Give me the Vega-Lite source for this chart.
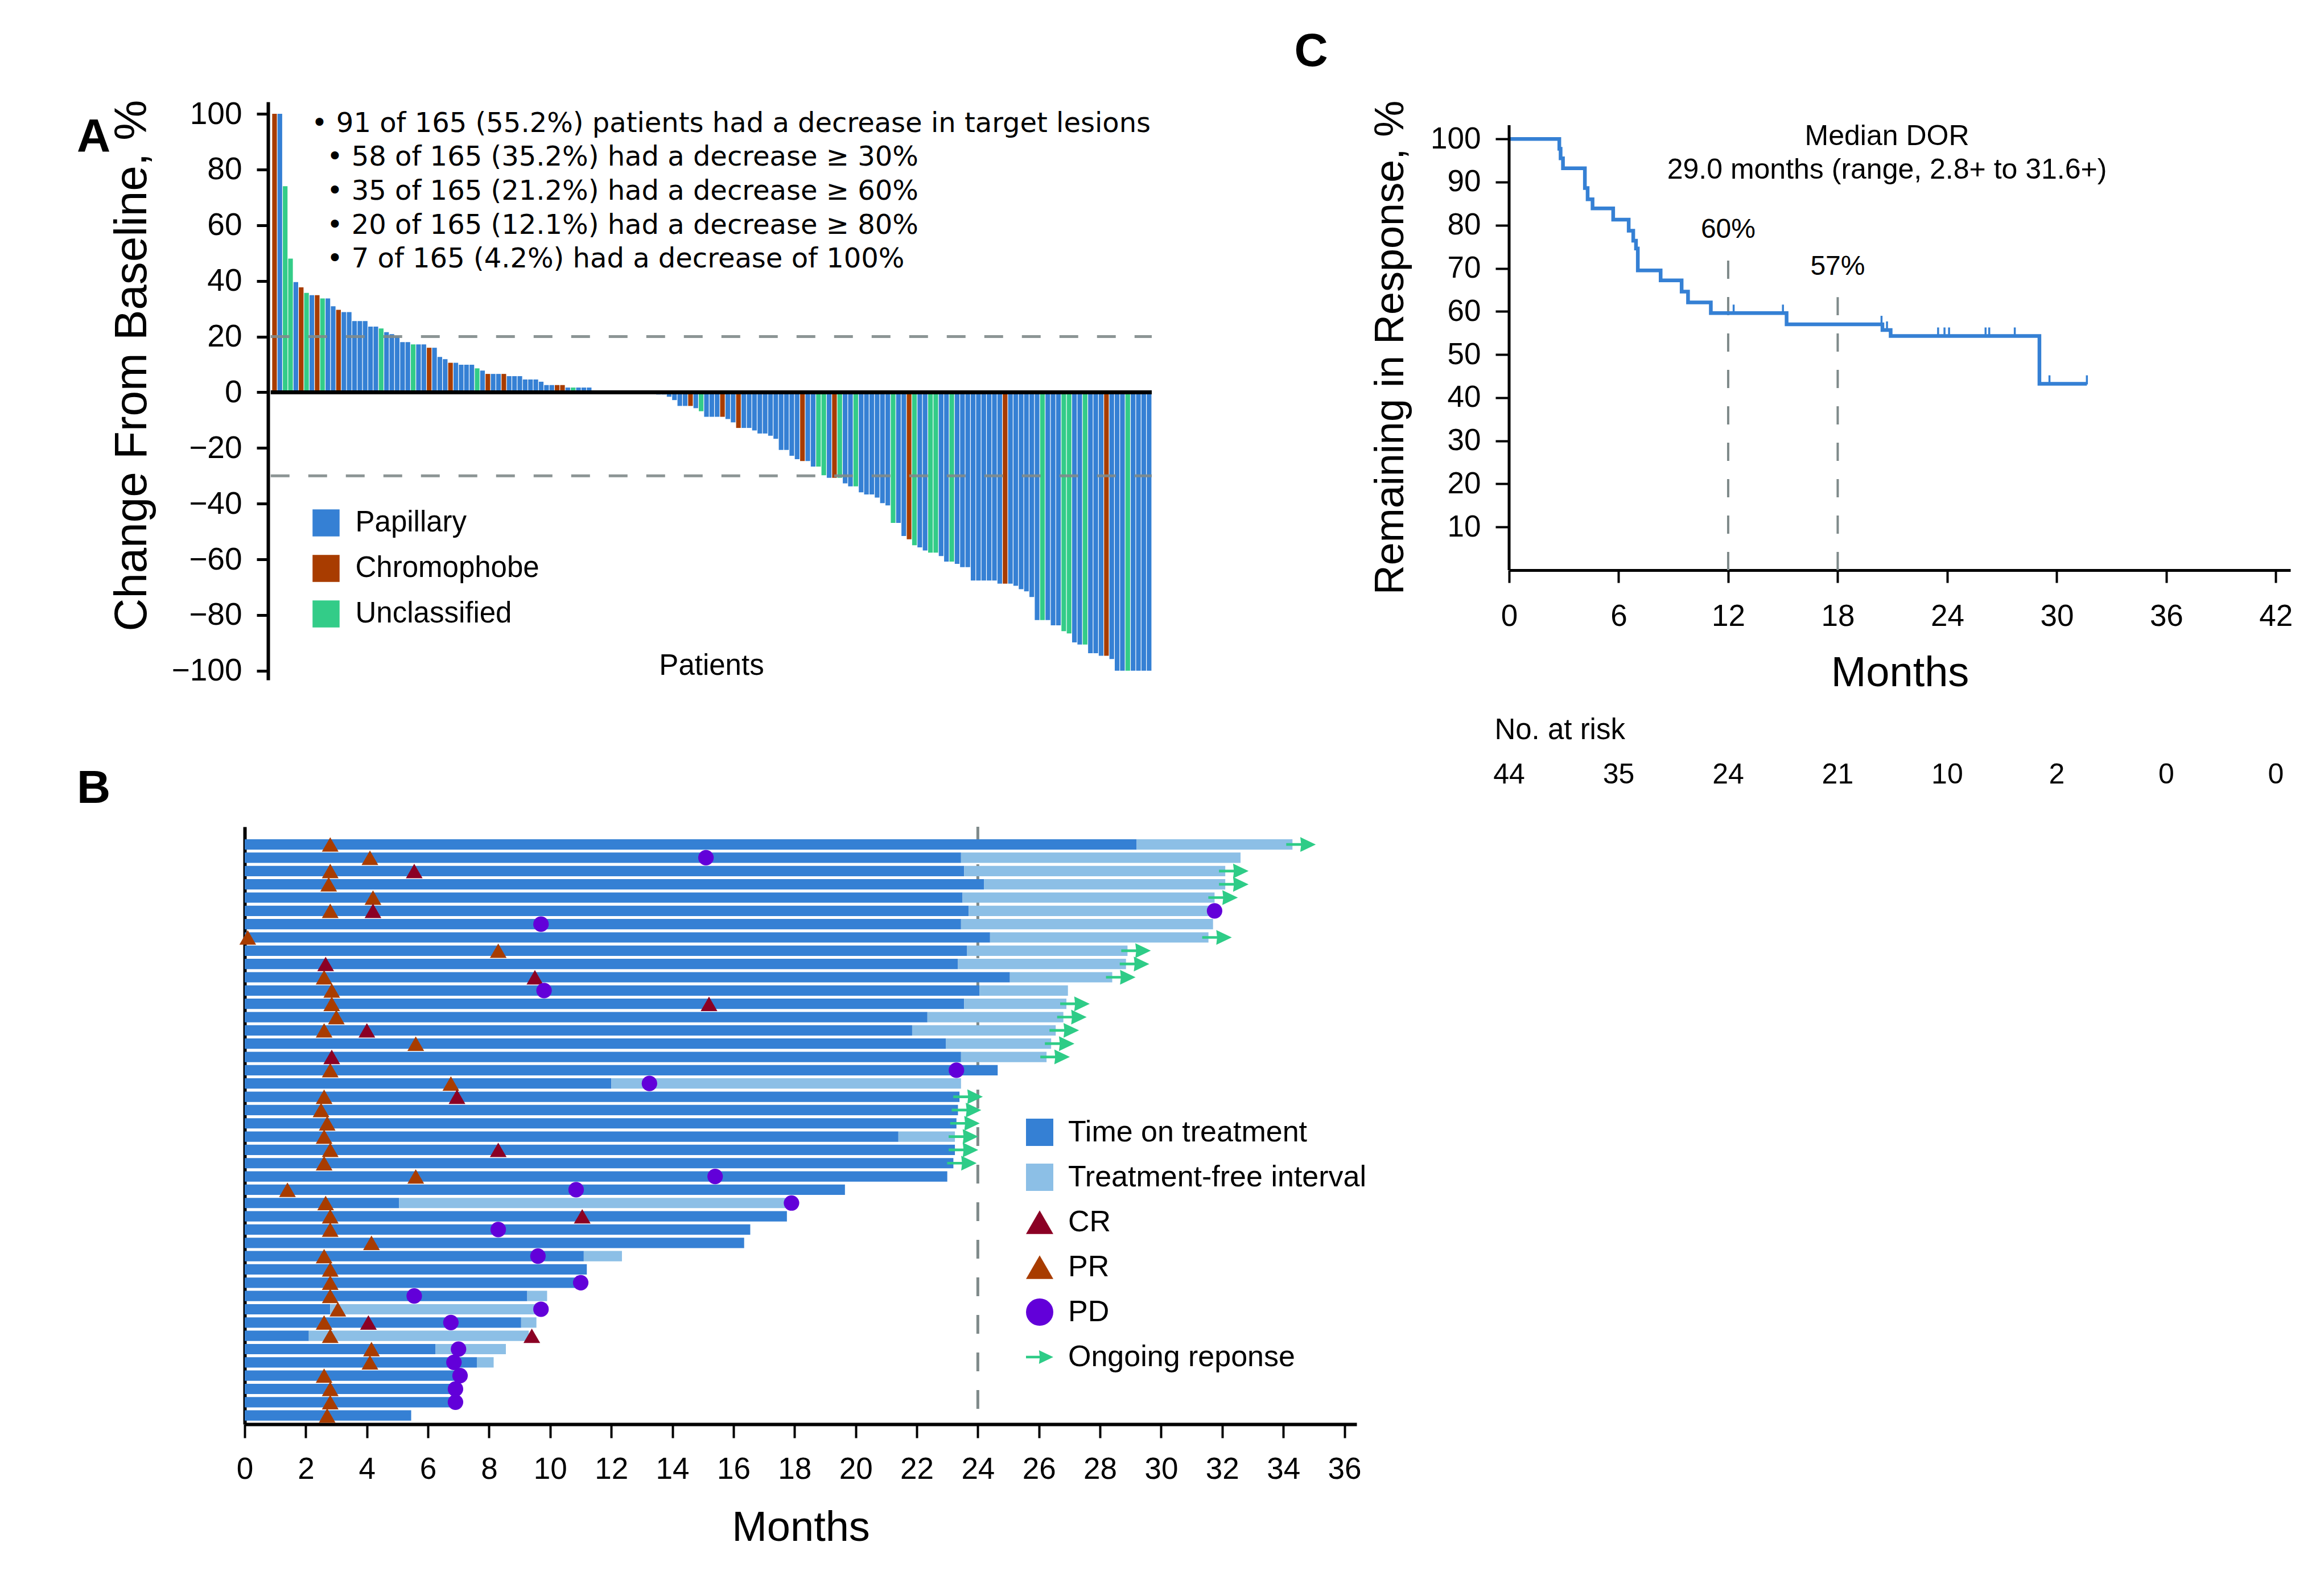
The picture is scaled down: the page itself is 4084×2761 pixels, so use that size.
{
"$schema": "https://vega.github.io/schema/vega-lite/v6.json",
"background": "white",
"padding": {"left": 135, "top": 50, "right": 20, "bottom": 20},
"columns": 2,
"bounds": "flush",
"spacing": {"row": 258, "column": 268},
"resolve": {"scale": {"color": "independent", "shape": "independent"}, "legend": {"color": "independent", "shape": "independent"}},
"config": {
  "font": "Liberation Sans",
  "view": {"stroke": null},
  "axis": {"grid": false, "domainColor": "black", "tickColor": "black", "labelColor": "black", "titleColor": "black", "titleFontWeight": "normal"},
  "legend": {"labelColor": "black", "labelLimit": 2000},
  "title": {"color": "black"}
},
"concat": [
{
  "width": 1599, "height": 1016,
  "title": {"text": "A", "anchor": "start", "frame": "group", "offset": 0, "dx": -295, "dy": 175, "fontSize": 82, "fontWeight": "bold", "baseline": "alphabetic"},
  "layer": [
    {
      "data": {"values": [
        {"r":1,"v":100,"h":"Chromophobe"},{"r":2,"v":100,"h":"Papillary"},{"r":3,"v":74,"h":"Unclassified"},{"r":4,"v":48,"h":"Unclassified"},
        {"r":5,"v":39.6,"h":"Papillary"},{"r":6,"v":37.7,"h":"Chromophobe"},{"r":7,"v":35.7,"h":"Unclassified"},{"r":8,"v":34.9,"h":"Papillary"},
        {"r":9,"v":34.9,"h":"Chromophobe"},{"r":10,"v":33.7,"h":"Unclassified"},{"r":11,"v":33.7,"h":"Papillary"},{"r":12,"v":30.9,"h":"Papillary"},
        {"r":13,"v":29.6,"h":"Chromophobe"},{"r":14,"v":28.8,"h":"Papillary"},{"r":15,"v":28.8,"h":"Papillary"},{"r":16,"v":25.6,"h":"Papillary"},
        {"r":17,"v":25.6,"h":"Papillary"},{"r":18,"v":25.6,"h":"Papillary"},{"r":19,"v":23.6,"h":"Papillary"},{"r":20,"v":23.6,"h":"Papillary"},
        {"r":21,"v":22.9,"h":"Unclassified"},{"r":22,"v":21.6,"h":"Papillary"},{"r":23,"v":20.9,"h":"Papillary"},{"r":24,"v":20.1,"h":"Papillary"},
        {"r":25,"v":18,"h":"Papillary"},{"r":26,"v":18,"h":"Papillary"},{"r":27,"v":17.2,"h":"Unclassified"},{"r":28,"v":17.2,"h":"Papillary"},
        {"r":29,"v":17.2,"h":"Papillary"},{"r":30,"v":16,"h":"Chromophobe"},{"r":31,"v":16,"h":"Papillary"},{"r":32,"v":12.7,"h":"Papillary"},
        {"r":33,"v":11.9,"h":"Papillary"},{"r":34,"v":10.6,"h":"Chromophobe"},{"r":35,"v":10.6,"h":"Papillary"},{"r":36,"v":9.9,"h":"Papillary"},
        {"r":37,"v":9.9,"h":"Papillary"},{"r":38,"v":9.9,"h":"Papillary"},{"r":39,"v":8.6,"h":"Unclassified"},{"r":40,"v":7.8,"h":"Papillary"},
        {"r":41,"v":6.6,"h":"Chromophobe"},{"r":42,"v":6.6,"h":"Papillary"},{"r":43,"v":6.6,"h":"Papillary"},{"r":44,"v":6.6,"h":"Chromophobe"},
        {"r":45,"v":5.8,"h":"Papillary"},{"r":46,"v":5.8,"h":"Papillary"},{"r":47,"v":5.8,"h":"Papillary"},{"r":48,"v":4.6,"h":"Papillary"},
        {"r":49,"v":4.6,"h":"Papillary"},{"r":50,"v":4.6,"h":"Papillary"},{"r":51,"v":3.8,"h":"Papillary"},{"r":52,"v":2.6,"h":"Papillary"},
        {"r":53,"v":2.6,"h":"Papillary"},{"r":54,"v":2.6,"h":"Chromophobe"},{"r":55,"v":2.6,"h":"Chromophobe"},{"r":56,"v":1.7,"h":"Papillary"},
        {"r":57,"v":1.7,"h":"Unclassified"},{"r":58,"v":1.7,"h":"Papillary"},{"r":59,"v":1.7,"h":"Papillary"},{"r":60,"v":1.7,"h":"Papillary"},
        {"r":61,"v":0.5,"h":"Chromophobe"},{"r":62,"v":0.5,"h":"Chromophobe"},{"r":63,"v":0.5,"h":"Papillary"},
        {"r":64,"v":0,"h":"Papillary"},{"r":65,"v":0,"h":"Papillary"},{"r":66,"v":0,"h":"Papillary"},{"r":67,"v":0,"h":"Papillary"},
        {"r":68,"v":0,"h":"Papillary"},{"r":69,"v":0,"h":"Papillary"},
        {"r":70,"v":-0.5,"h":"Papillary"},{"r":71,"v":-0.5,"h":"Papillary"},{"r":72,"v":-0.5,"h":"Papillary"},{"r":73,"v":-0.8,"h":"Papillary"},
        {"r":74,"v":-0.8,"h":"Papillary"},{"r":75,"v":-1.6,"h":"Papillary"},{"r":76,"v":-2.8,"h":"Papillary"},{"r":77,"v":-4.9,"h":"Papillary"},
        {"r":78,"v":-4.9,"h":"Papillary"},{"r":79,"v":-4.9,"h":"Chromophobe"},{"r":80,"v":-5.7,"h":"Papillary"},{"r":81,"v":-6.8,"h":"Unclassified"},
        {"r":82,"v":-8.8,"h":"Papillary"},{"r":83,"v":-8.8,"h":"Papillary"},{"r":84,"v":-8.8,"h":"Papillary"},{"r":85,"v":-8.8,"h":"Chromophobe"},
        {"r":86,"v":-9.6,"h":"Papillary"},{"r":87,"v":-10.8,"h":"Papillary"},{"r":88,"v":-12.8,"h":"Chromophobe"},{"r":89,"v":-12.8,"h":"Papillary"},
        {"r":90,"v":-12.8,"h":"Papillary"},{"r":91,"v":-13.7,"h":"Papillary"},{"r":92,"v":-14.8,"h":"Papillary"},{"r":93,"v":-14.8,"h":"Papillary"},
        {"r":94,"v":-15.6,"h":"Papillary"},{"r":95,"v":-16.7,"h":"Papillary"},{"r":96,"v":-20.7,"h":"Papillary"},{"r":97,"v":-20.7,"h":"Papillary"},
        {"r":98,"v":-22.8,"h":"Papillary"},{"r":99,"v":-24,"h":"Papillary"},{"r":100,"v":-24.7,"h":"Chromophobe"},{"r":101,"v":-24.7,"h":"Papillary"},
        {"r":102,"v":-26.7,"h":"Papillary"},{"r":103,"v":-26.7,"h":"Unclassified"},{"r":104,"v":-29.8,"h":"Unclassified"},{"r":105,"v":-30.7,"h":"Papillary"},
        {"r":106,"v":-30.7,"h":"Chromophobe"},{"r":107,"v":-30.7,"h":"Unclassified"},{"r":108,"v":-32.7,"h":"Papillary"},{"r":109,"v":-33.8,"h":"Papillary"},
        {"r":110,"v":-33.8,"h":"Unclassified"},{"r":111,"v":-35.9,"h":"Papillary"},{"r":112,"v":-36.7,"h":"Papillary"},{"r":113,"v":-36.7,"h":"Papillary"},
        {"r":114,"v":-37.8,"h":"Papillary"},{"r":115,"v":-39.8,"h":"Papillary"},{"r":116,"v":-40.6,"h":"Papillary"},{"r":117,"v":-46.9,"h":"Unclassified"},
        {"r":118,"v":-46.9,"h":"Papillary"},{"r":119,"v":-51.6,"h":"Papillary"},{"r":120,"v":-52.8,"h":"Chromophobe"},{"r":121,"v":-54.9,"h":"Unclassified"},
        {"r":122,"v":-55.7,"h":"Papillary"},{"r":123,"v":-56.8,"h":"Papillary"},{"r":124,"v":-57.6,"h":"Unclassified"},{"r":125,"v":-57.6,"h":"Unclassified"},
        {"r":126,"v":-58.8,"h":"Papillary"},{"r":127,"v":-60.8,"h":"Papillary"},{"r":128,"v":-60.8,"h":"Unclassified"},{"r":129,"v":-61.6,"h":"Papillary"},
        {"r":130,"v":-62.8,"h":"Papillary"},{"r":131,"v":-62.8,"h":"Papillary"},{"r":132,"v":-67.6,"h":"Papillary"},{"r":133,"v":-67.6,"h":"Papillary"},
        {"r":134,"v":-67.6,"h":"Papillary"},{"r":135,"v":-67.6,"h":"Papillary"},{"r":136,"v":-67.6,"h":"Papillary"},{"r":137,"v":-68.7,"h":"Papillary"},
        {"r":138,"v":-68.7,"h":"Chromophobe"},{"r":139,"v":-68.7,"h":"Papillary"},{"r":140,"v":-69.5,"h":"Papillary"},{"r":141,"v":-70.7,"h":"Papillary"},
        {"r":142,"v":-71.5,"h":"Papillary"},{"r":143,"v":-73.5,"h":"Papillary"},{"r":144,"v":-81.8,"h":"Papillary"},{"r":145,"v":-81.8,"h":"Unclassified"},
        {"r":146,"v":-81.8,"h":"Papillary"},{"r":147,"v":-83.7,"h":"Papillary"},{"r":148,"v":-83.7,"h":"Papillary"},{"r":149,"v":-85.8,"h":"Unclassified"},
        {"r":150,"v":-86.6,"h":"Unclassified"},{"r":151,"v":-89.8,"h":"Papillary"},{"r":152,"v":-90.6,"h":"Papillary"},{"r":153,"v":-90.6,"h":"Unclassified"},
        {"r":154,"v":-93.7,"h":"Papillary"},{"r":155,"v":-93.7,"h":"Papillary"},{"r":156,"v":-94.6,"h":"Papillary"},{"r":157,"v":-94.6,"h":"Chromophobe"},
        {"r":158,"v":-95.8,"h":"Papillary"},{"r":159,"v":-100,"h":"Papillary"},{"r":160,"v":-100,"h":"Papillary"},{"r":161,"v":-100,"h":"Unclassified"},
        {"r":162,"v":-100,"h":"Papillary"},{"r":163,"v":-100,"h":"Papillary"},{"r":164,"v":-100,"h":"Papillary"},{"r":165,"v":-100,"h":"Papillary"}
      ]},
      "mark": {"type": "bar", "width": 8.2, "orient": "vertical"},
      "encoding": {
        "x": {"field": "r", "type": "quantitative", "scale": {"domain": [-4.06, 165.5], "nice": false, "zero": false},
              "axis": {"title": "Patients", "labels": false, "ticks": false, "domain": false, "titleFontSize": 51, "titleX": 820, "titleY": -10, "titleBaseline": "alphabetic"}},
        "y": {"field": "v", "type": "quantitative", "stack": null, "scale": {"domain": [-103.3, 104.3], "nice": false},
              "axis": {"title": "Change From Baseline, %", "values": [-100, -80, -60, -40, -20, 0, 20, 40, 60, 80, 100], "offset": -41, "tickSize": 20, "tickWidth": 5, "domainWidth": 6, "labelFontSize": 55, "labelPadding": 26, "labelFlush": false, "labelOverlap": false, "titleFontSize": 80, "titlePadding": 28, "titleY": 463}},
        "color": {"field": "h", "type": "nominal",
                  "scale": {"domain": ["Papillary", "Chromophobe", "Unclassified"], "range": ["#3580D4", "#A83C00", "#33CC88"]},
                  "legend": {"orient": "none", "legendX": 117.5, "legendY": 714.5, "title": null, "symbolType": "square", "symbolSize": 2256, "labelFontSize": 51, "labelOffset": 26, "rowPadding": 28, "padding": 0, "symbolStrokeWidth": 0, "labelLimit": 2000}}
      }
    },
    {"data": {"values": [{}]}, "mark": {"type": "rule", "strokeDash": [33, 33], "strokeWidth": 5, "color": "#7F8A8A", "opacity": 0.9},
     "encoding": {"x": {"datum": 0.29}, "x2": {"datum": 165.5}, "y": {"datum": 20}}},
    {"data": {"values": [{}]}, "mark": {"type": "rule", "strokeDash": [33, 33], "strokeWidth": 5, "color": "#7F8A8A", "opacity": 0.9},
     "encoding": {"x": {"datum": 0.29}, "x2": {"datum": 165.5}, "y": {"datum": -30}}},
    {"data": {"values": [{}]}, "mark": {"type": "rule", "strokeWidth": 7, "color": "black"},
     "encoding": {"x": {"datum": 0.29}, "x2": {"datum": 165.5}, "y": {"datum": 0}}},
    {"data": {"values": [{}]}, "mark": {"type": "text", "align": "left", "baseline": "middle", "font": "DejaVu Sans", "fontSize": 48, "color": "black", "text": "• 91 of 165 (55.2%) patients had a decrease in target lesions"},
     "encoding": {"x": {"datum": 7.92}, "y": {"datum": 96.3}}},
    {"data": {"values": [{}]}, "mark": {"type": "text", "align": "left", "baseline": "middle", "font": "DejaVu Sans", "fontSize": 48, "color": "black", "text": "• 58 of 165 (35.2%) had a decrease ≥ 30%"},
     "encoding": {"x": {"datum": 10.79}, "y": {"datum": 84.2}}},
    {"data": {"values": [{}]}, "mark": {"type": "text", "align": "left", "baseline": "middle", "font": "DejaVu Sans", "fontSize": 48, "color": "black", "text": "• 35 of 165 (21.2%) had a decrease ≥ 60%"},
     "encoding": {"x": {"datum": 10.79}, "y": {"datum": 72.0}}},
    {"data": {"values": [{}]}, "mark": {"type": "text", "align": "left", "baseline": "middle", "font": "DejaVu Sans", "fontSize": 48, "color": "black", "text": "• 20 of 165 (12.1%) had a decrease ≥ 80%"},
     "encoding": {"x": {"datum": 10.79}, "y": {"datum": 59.8}}},
    {"data": {"values": [{}]}, "mark": {"type": "text", "align": "left", "baseline": "middle", "font": "DejaVu Sans", "fontSize": 48, "color": "black", "text": "• 7 of 165 (4.2%) had a decrease of 100%"},
     "encoding": {"x": {"datum": 10.79}, "y": {"datum": 47.6}}}
  ]
},
{
  "width": 1373, "height": 823,
  "title": {"text": "C", "anchor": "start", "frame": "group", "offset": 0, "dx": -377.6, "dy": 22, "fontSize": 82, "fontWeight": "bold", "baseline": "alphabetic"},
  "layer": [
    {"data": {"values": [{}]}, "mark": {"type": "rule", "strokeDash": [32, 32], "strokeWidth": 4, "color": "#7F8A8A"},
     "encoding": {"x": {"datum": 12}, "y": {"datum": 0}, "y2": {"datum": 72.2}}},
    {"data": {"values": [{}]}, "mark": {"type": "rule", "strokeDash": [32, 32], "strokeWidth": 4, "color": "#7F8A8A"},
     "encoding": {"x": {"datum": 18}, "y": {"datum": 0}, "y2": {"datum": 63.3}}},
    {
      "data": {"values": [
        {"t":0,"s":100},{"t":2.75,"s":97.7},{"t":2.82,"s":95.5},{"t":2.95,"s":93.2},{"t":4.15,"s":88.6},{"t":4.3,"s":86.0},
        {"t":4.57,"s":83.9},{"t":5.7,"s":81.3},{"t":6.55,"s":78.7},{"t":6.8,"s":76.4},{"t":6.95,"s":74.6},{"t":7.05,"s":69.5},
        {"t":8.3,"s":67.2},{"t":9.45,"s":64.6},{"t":9.8,"s":62.1},{"t":11.05,"s":59.6},{"t":15.2,"s":57.0},{"t":20.45,"s":55.7},
        {"t":20.9,"s":54.3},{"t":29.05,"s":43.2},{"t":31.65,"s":43.2}
      ]},
      "mark": {"type": "line", "interpolate": "step-after", "strokeWidth": 6.5, "color": "#3580D4"},
      "encoding": {
        "x": {"field": "t", "type": "quantitative", "scale": {"domain": [0, 42.8], "nice": false, "zero": false},
              "axis": {"title": "Months", "values": [0, 6, 12, 18, 24, 30, 36, 42], "tickSize": 22, "tickWidth": 4, "domainWidth": 5, "labelFontSize": 53, "labelPadding": 33, "labelFlush": false, "labelOverlap": false, "titleFontSize": 74, "titlePadding": 37}},
        "y": {"field": "s", "type": "quantitative", "scale": {"domain": [0, 108.6], "nice": false},
              "axis": {"title": "Remaining in Response, %", "values": [10, 20, 30, 40, 50, 60, 70, 80, 90, 100], "domain": false, "tickSize": 24, "tickWidth": 4, "labelFontSize": 53, "labelPadding": 26, "labelFlush": false, "labelOverlap": false, "titleFontSize": 72, "titlePadding": 33, "titleY": 431.5}}
      }
    },
    {
      "data": {"values": [
        {"t":12.3,"s":59.6},{"t":15.0,"s":59.6},{"t":20.4,"s":57.0},{"t":20.7,"s":55.7},{"t":23.5,"s":54.3},{"t":23.85,"s":54.3},
        {"t":24.1,"s":54.3},{"t":26.1,"s":54.3},{"t":26.3,"s":54.3},{"t":27.7,"s":54.3},{"t":29.6,"s":43.2},{"t":31.65,"s":43.2}
      ]},
      "mark": {"type": "tick", "orient": "vertical", "size": 16, "thickness": 3.5, "yOffset": -7, "color": "#3580D4", "opacity": 1},
      "encoding": {"x": {"field": "t", "type": "quantitative"}, "y": {"field": "s", "type": "quantitative"}}
    },
    {"data": {"values": [{}]}, "mark": {"type": "rule", "strokeWidth": 5, "color": "black"},
     "encoding": {"x": {"datum": 0}, "y": {"datum": 0}, "y2": {"datum": 103.2}}},
    {"data": {"values": [{}]}, "mark": {"type": "text", "align": "center", "baseline": "middle", "fontSize": 50, "color": "black", "text": "Median DOR"},
     "encoding": {"x": {"datum": 20.7}, "y": {"datum": 100.6}}},
    {"data": {"values": [{}]}, "mark": {"type": "text", "align": "center", "baseline": "middle", "fontSize": 50, "color": "black", "text": "29.0 months (range, 2.8+ to 31.6+)"},
     "encoding": {"x": {"datum": 20.7}, "y": {"datum": 92.7}}},
    {"data": {"values": [{}]}, "mark": {"type": "text", "align": "center", "baseline": "middle", "fontSize": 48, "color": "black", "text": "60%"},
     "encoding": {"x": {"datum": 12}, "y": {"datum": 78.9}}},
    {"data": {"values": [{}]}, "mark": {"type": "text", "align": "center", "baseline": "middle", "fontSize": 48, "color": "black", "text": "57%"},
     "encoding": {"x": {"datum": 18}, "y": {"datum": 70.3}}},
    {"data": {"values": [{}]}, "mark": {"type": "text", "align": "left", "baseline": "middle", "fontSize": 51, "color": "black", "dx": -25.6, "text": "No. at risk"},
     "encoding": {"x": {"datum": 0}, "y": {"datum": -37.2}}},
    {
      "data": {"values": [{"m":0,"n":44},{"m":6,"n":35},{"m":12,"n":24},{"m":18,"n":21},{"m":24,"n":10},{"m":30,"n":2},{"m":36,"n":0},{"m":42,"n":0}]},
      "mark": {"type": "text", "align": "center", "baseline": "middle", "fontSize": 50, "color": "black"},
      "encoding": {"x": {"field": "m", "type": "quantitative"}, "y": {"datum": -47.5}, "text": {"field": "n", "type": "quantitative"}}
    }
  ]
},
{
  "width": 1954, "height": 1050,
  "title": {"text": "B", "anchor": "start", "frame": "group", "offset": 0, "dx": -295, "dy": 42, "fontSize": 82, "fontWeight": "bold", "baseline": "alphabetic"},
  "layer": [
    {"data": {"values": [{}]}, "mark": {"type": "rule", "strokeDash": [33, 33], "strokeWidth": 5, "color": "#7F8A8A"},
     "encoding": {"x": {"datum": 24}}},
    {
      "data": {"values": [
        {"p":1,"s":0,"e":29.2,"k":"Time on treatment"},{"p":2,"s":0,"e":23.45,"k":"Time on treatment"},{"p":3,"s":0,"e":23.55,"k":"Time on treatment"},
        {"p":4,"s":0,"e":24.2,"k":"Time on treatment"},{"p":5,"s":0,"e":23.5,"k":"Time on treatment"},{"p":6,"s":0,"e":23.7,"k":"Time on treatment"},
        {"p":7,"s":0,"e":23.45,"k":"Time on treatment"},{"p":8,"s":0,"e":24.4,"k":"Time on treatment"},{"p":9,"s":0,"e":23.65,"k":"Time on treatment"},
        {"p":10,"s":0,"e":23.35,"k":"Time on treatment"},{"p":11,"s":0,"e":25.05,"k":"Time on treatment"},{"p":12,"s":0,"e":24.05,"k":"Time on treatment"},
        {"p":13,"s":0,"e":23.55,"k":"Time on treatment"},{"p":14,"s":0,"e":22.35,"k":"Time on treatment"},{"p":15,"s":0,"e":21.85,"k":"Time on treatment"},
        {"p":16,"s":0,"e":22.95,"k":"Time on treatment"},{"p":17,"s":0,"e":23.45,"k":"Time on treatment"},{"p":18,"s":0,"e":24.65,"k":"Time on treatment"},
        {"p":19,"s":0,"e":12.0,"k":"Time on treatment"},{"p":20,"s":0,"e":23.4,"k":"Time on treatment"},{"p":21,"s":0,"e":23.35,"k":"Time on treatment"},
        {"p":22,"s":0,"e":23.3,"k":"Time on treatment"},{"p":23,"s":0,"e":21.4,"k":"Time on treatment"},{"p":24,"s":0,"e":23.25,"k":"Time on treatment"},
        {"p":25,"s":0,"e":23.2,"k":"Time on treatment"},{"p":26,"s":0,"e":23.0,"k":"Time on treatment"},{"p":27,"s":0,"e":19.65,"k":"Time on treatment"},
        {"p":28,"s":0,"e":5.05,"k":"Time on treatment"},{"p":29,"s":0,"e":17.75,"k":"Time on treatment"},{"p":30,"s":0,"e":16.55,"k":"Time on treatment"},
        {"p":31,"s":0,"e":16.35,"k":"Time on treatment"},{"p":32,"s":0,"e":11.1,"k":"Time on treatment"},{"p":33,"s":0,"e":11.2,"k":"Time on treatment"},
        {"p":34,"s":0,"e":10.85,"k":"Time on treatment"},{"p":35,"s":0,"e":9.25,"k":"Time on treatment"},{"p":36,"s":0,"e":2.8,"k":"Time on treatment"},
        {"p":37,"s":0,"e":9.05,"k":"Time on treatment"},{"p":38,"s":0,"e":2.1,"k":"Time on treatment"},{"p":39,"s":0,"e":6.25,"k":"Time on treatment"},
        {"p":40,"s":0,"e":7.6,"k":"Time on treatment"},{"p":41,"s":0,"e":6.9,"k":"Time on treatment"},{"p":42,"s":0,"e":6.75,"k":"Time on treatment"},
        {"p":43,"s":0,"e":6.75,"k":"Time on treatment"},{"p":44,"s":0,"e":5.45,"k":"Time on treatment"},
        {"p":1,"s":29.2,"e":34.3,"k":"Treatment-free interval"},{"p":2,"s":23.45,"e":32.6,"k":"Treatment-free interval"},
        {"p":3,"s":23.55,"e":32.1,"k":"Treatment-free interval"},{"p":4,"s":24.2,"e":32.1,"k":"Treatment-free interval"},
        {"p":5,"s":23.5,"e":31.75,"k":"Treatment-free interval"},{"p":6,"s":23.7,"e":31.65,"k":"Treatment-free interval"},
        {"p":7,"s":23.45,"e":31.7,"k":"Treatment-free interval"},{"p":8,"s":24.4,"e":31.55,"k":"Treatment-free interval"},
        {"p":9,"s":23.65,"e":28.9,"k":"Treatment-free interval"},{"p":10,"s":23.35,"e":28.85,"k":"Treatment-free interval"},
        {"p":11,"s":25.05,"e":28.4,"k":"Treatment-free interval"},{"p":12,"s":24.05,"e":26.95,"k":"Treatment-free interval"},
        {"p":13,"s":23.55,"e":26.9,"k":"Treatment-free interval"},{"p":14,"s":22.35,"e":26.8,"k":"Treatment-free interval"},
        {"p":15,"s":21.85,"e":26.55,"k":"Treatment-free interval"},{"p":16,"s":22.95,"e":26.4,"k":"Treatment-free interval"},
        {"p":17,"s":23.45,"e":26.25,"k":"Treatment-free interval"},{"p":19,"s":12.0,"e":23.45,"k":"Treatment-free interval"},
        {"p":23,"s":21.4,"e":23.25,"k":"Treatment-free interval"},{"p":28,"s":5.05,"e":17.7,"k":"Treatment-free interval"},
        {"p":32,"s":11.1,"e":12.35,"k":"Treatment-free interval"},{"p":35,"s":9.25,"e":9.9,"k":"Treatment-free interval"},
        {"p":36,"s":2.8,"e":9.5,"k":"Treatment-free interval"},{"p":37,"s":9.05,"e":9.55,"k":"Treatment-free interval"},
        {"p":38,"s":2.1,"e":9.3,"k":"Treatment-free interval"},{"p":39,"s":6.25,"e":8.55,"k":"Treatment-free interval"},
        {"p":40,"s":7.6,"e":8.15,"k":"Treatment-free interval"}
      ]},
      "mark": {"type": "bar"},
      "encoding": {
        "y": {"field": "p", "type": "ordinal", "scale": {"paddingInner": 0.22, "paddingOuter": 0.605, "align": 0.78},
              "axis": {"title": null, "labels": false, "ticks": false, "domainWidth": 6}},
        "x": {"field": "s", "type": "quantitative", "scale": {"domain": [0, 36.4], "nice": false, "zero": false},
              "axis": {"title": "Months", "values": [0, 2, 4, 6, 8, 10, 12, 14, 16, 18, 20, 22, 24, 26, 28, 30, 32, 34, 36], "tickSize": 24, "tickWidth": 4, "domainWidth": 6, "labelFontSize": 53, "labelPadding": 29, "labelFlush": false, "labelOverlap": false, "titleFontSize": 74, "titlePadding": 40}},
        "x2": {"field": "e"},
        "color": {"field": "k", "type": "nominal",
                  "scale": {"domain": ["Time on treatment", "Treatment-free interval", "CR", "PR", "PD", "Ongoing reponse"], "range": ["#3580D4", "#8CBFE6", "#8B0024", "#A83C00", "#6200D9", "#2ECC87"]},
                  "legend": {"orient": "none", "legendX": 1371, "legendY": 511, "title": null, "symbolSize": 2304, "labelFontSize": 52, "labelOffset": 24, "rowPadding": 27, "padding": 0, "symbolStrokeWidth": 0, "symbolOpacity": 1, "labelLimit": 2000}}
      }
    },
    {
      "data": {"values": [
        {"p":1,"t":2.8,"k":"PR"},{"p":2,"t":4.1,"k":"PR"},{"p":3,"t":2.8,"k":"PR"},{"p":4,"t":2.75,"k":"PR"},{"p":5,"t":4.2,"k":"PR"},
        {"p":6,"t":2.8,"k":"PR"},{"p":8,"t":0.1,"k":"PR"},{"p":9,"t":8.3,"k":"PR"},{"p":11,"t":2.6,"k":"PR"},{"p":12,"t":2.85,"k":"PR"},
        {"p":13,"t":2.85,"k":"PR"},{"p":14,"t":3.0,"k":"PR"},{"p":15,"t":2.6,"k":"PR"},{"p":16,"t":5.6,"k":"PR"},{"p":18,"t":2.8,"k":"PR"},
        {"p":19,"t":6.75,"k":"PR"},{"p":20,"t":2.6,"k":"PR"},{"p":21,"t":2.5,"k":"PR"},{"p":22,"t":2.7,"k":"PR"},{"p":23,"t":2.6,"k":"PR"},
        {"p":24,"t":2.8,"k":"PR"},{"p":25,"t":2.6,"k":"PR"},{"p":26,"t":5.6,"k":"PR"},{"p":27,"t":1.4,"k":"PR"},{"p":28,"t":2.65,"k":"PR"},
        {"p":29,"t":2.8,"k":"PR"},{"p":30,"t":2.8,"k":"PR"},{"p":31,"t":4.15,"k":"PR"},{"p":32,"t":2.6,"k":"PR"},{"p":33,"t":2.8,"k":"PR"},
        {"p":34,"t":2.8,"k":"PR"},{"p":35,"t":2.8,"k":"PR"},{"p":36,"t":3.05,"k":"PR"},{"p":37,"t":2.6,"k":"PR"},{"p":38,"t":2.8,"k":"PR"},
        {"p":39,"t":4.15,"k":"PR"},{"p":40,"t":4.1,"k":"PR"},{"p":41,"t":2.6,"k":"PR"},{"p":42,"t":2.8,"k":"PR"},{"p":43,"t":2.8,"k":"PR"},
        {"p":44,"t":2.7,"k":"PR"},
        {"p":3,"t":5.55,"k":"CR"},{"p":6,"t":4.2,"k":"CR"},{"p":10,"t":2.65,"k":"CR"},{"p":11,"t":9.5,"k":"CR"},{"p":13,"t":15.2,"k":"CR"},
        {"p":15,"t":4.0,"k":"CR"},{"p":17,"t":2.85,"k":"CR"},{"p":20,"t":6.95,"k":"CR"},{"p":24,"t":8.3,"k":"CR"},{"p":29,"t":11.05,"k":"CR"},
        {"p":37,"t":4.05,"k":"CR"},{"p":38,"t":9.4,"k":"CR"}
      ]},
      "mark": {"type": "point", "filled": true, "opacity": 1, "size": 860},
      "encoding": {
        "y": {"field": "p", "type": "ordinal"},
        "x": {"field": "t", "type": "quantitative"},
        "color": {"field": "k", "type": "nominal",
                  "scale": {"domain": ["Time on treatment", "Treatment-free interval", "CR", "PR", "PD", "Ongoing reponse"], "range": ["#3580D4", "#8CBFE6", "#8B0024", "#A83C00", "#6200D9", "#2ECC87"]},
                  "legend": {"orient": "none", "legendX": 1371, "legendY": 511, "title": null, "symbolSize": 2304, "labelFontSize": 52, "labelOffset": 24, "rowPadding": 27, "padding": 0, "symbolStrokeWidth": 0, "symbolOpacity": 1, "labelLimit": 2000}},
        "shape": {"field": "k", "type": "nominal",
                  "scale": {"domain": ["Time on treatment", "Treatment-free interval", "CR", "PR", "PD", "Ongoing reponse"], "range": ["square", "square", "triangle-up", "triangle-up", "circle", "M-1,-0.09L0,-0.09L-0.05,-0.5L1,0L-0.05,0.5L0,0.09L-1,0.09Z"]},
                  "legend": {"orient": "none", "legendX": 1371, "legendY": 511, "title": null, "symbolSize": 2304, "labelFontSize": 52, "labelOffset": 24, "rowPadding": 27, "padding": 0, "symbolStrokeWidth": 0, "symbolOpacity": 1, "labelLimit": 2000}}
      }
    },
    {
      "data": {"values": [
        {"p":2,"t":15.1,"k":"PD"},{"p":6,"t":31.75,"k":"PD"},{"p":7,"t":9.7,"k":"PD"},{"p":12,"t":9.8,"k":"PD"},{"p":18,"t":23.3,"k":"PD"},
        {"p":19,"t":13.25,"k":"PD"},{"p":26,"t":15.4,"k":"PD"},{"p":27,"t":10.85,"k":"PD"},{"p":28,"t":17.9,"k":"PD"},{"p":30,"t":8.3,"k":"PD"},
        {"p":32,"t":9.6,"k":"PD"},{"p":34,"t":11.0,"k":"PD"},{"p":35,"t":5.55,"k":"PD"},{"p":36,"t":9.7,"k":"PD"},{"p":37,"t":6.75,"k":"PD"},
        {"p":39,"t":7.0,"k":"PD"},{"p":40,"t":6.85,"k":"PD"},{"p":41,"t":7.05,"k":"PD"},{"p":42,"t":6.9,"k":"PD"},{"p":43,"t":6.9,"k":"PD"}
      ]},
      "mark": {"type": "point", "filled": true, "opacity": 1, "size": 740},
      "encoding": {
        "y": {"field": "p", "type": "ordinal"},
        "x": {"field": "t", "type": "quantitative"},
        "color": {"field": "k", "type": "nominal",
                  "scale": {"domain": ["Time on treatment", "Treatment-free interval", "CR", "PR", "PD", "Ongoing reponse"], "range": ["#3580D4", "#8CBFE6", "#8B0024", "#A83C00", "#6200D9", "#2ECC87"]},
                  "legend": {"orient": "none", "legendX": 1371, "legendY": 511, "title": null, "symbolSize": 2304, "labelFontSize": 52, "labelOffset": 24, "rowPadding": 27, "padding": 0, "symbolStrokeWidth": 0, "symbolOpacity": 1, "labelLimit": 2000}},
        "shape": {"field": "k", "type": "nominal",
                  "scale": {"domain": ["Time on treatment", "Treatment-free interval", "CR", "PR", "PD", "Ongoing reponse"], "range": ["square", "square", "triangle-up", "triangle-up", "circle", "M-1,-0.09L0,-0.09L-0.05,-0.5L1,0L-0.05,0.5L0,0.09L-1,0.09Z"]},
                  "legend": {"orient": "none", "legendX": 1371, "legendY": 511, "title": null, "symbolSize": 2304, "labelFontSize": 52, "labelOffset": 24, "rowPadding": 27, "padding": 0, "symbolStrokeWidth": 0, "symbolOpacity": 1, "labelLimit": 2000}}
      }
    },
    {
      "data": {"values": [
        {"p":1,"t":34.3,"k":"Ongoing reponse"},{"p":3,"t":32.1,"k":"Ongoing reponse"},{"p":4,"t":32.1,"k":"Ongoing reponse"},
        {"p":5,"t":31.75,"k":"Ongoing reponse"},{"p":8,"t":31.55,"k":"Ongoing reponse"},{"p":9,"t":28.9,"k":"Ongoing reponse"},
        {"p":10,"t":28.85,"k":"Ongoing reponse"},{"p":11,"t":28.4,"k":"Ongoing reponse"},{"p":13,"t":26.9,"k":"Ongoing reponse"},
        {"p":14,"t":26.8,"k":"Ongoing reponse"},{"p":15,"t":26.55,"k":"Ongoing reponse"},{"p":16,"t":26.4,"k":"Ongoing reponse"},
        {"p":17,"t":26.25,"k":"Ongoing reponse"},{"p":20,"t":23.4,"k":"Ongoing reponse"},{"p":21,"t":23.35,"k":"Ongoing reponse"},
        {"p":22,"t":23.3,"k":"Ongoing reponse"},{"p":23,"t":23.25,"k":"Ongoing reponse"},{"p":24,"t":23.25,"k":"Ongoing reponse"},
        {"p":25,"t":23.2,"k":"Ongoing reponse"}
      ]},
      "mark": {"type": "point", "filled": true, "opacity": 1, "size": 2700, "xOffset": 15},
      "encoding": {
        "y": {"field": "p", "type": "ordinal"},
        "x": {"field": "t", "type": "quantitative"},
        "color": {"field": "k", "type": "nominal",
                  "scale": {"domain": ["Time on treatment", "Treatment-free interval", "CR", "PR", "PD", "Ongoing reponse"], "range": ["#3580D4", "#8CBFE6", "#8B0024", "#A83C00", "#6200D9", "#2ECC87"]},
                  "legend": {"orient": "none", "legendX": 1371, "legendY": 511, "title": null, "symbolSize": 2304, "labelFontSize": 52, "labelOffset": 24, "rowPadding": 27, "padding": 0, "symbolStrokeWidth": 0, "symbolOpacity": 1, "labelLimit": 2000}},
        "shape": {"field": "k", "type": "nominal",
                  "scale": {"domain": ["Time on treatment", "Treatment-free interval", "CR", "PR", "PD", "Ongoing reponse"], "range": ["square", "square", "triangle-up", "triangle-up", "circle", "M-1,-0.09L0,-0.09L-0.05,-0.5L1,0L-0.05,0.5L0,0.09L-1,0.09Z"]},
                  "legend": {"orient": "none", "legendX": 1371, "legendY": 511, "title": null, "symbolSize": 2304, "labelFontSize": 52, "labelOffset": 24, "rowPadding": 27, "padding": 0, "symbolStrokeWidth": 0, "symbolOpacity": 1, "labelLimit": 2000}}
      }
    }
  ]
}
]
}
